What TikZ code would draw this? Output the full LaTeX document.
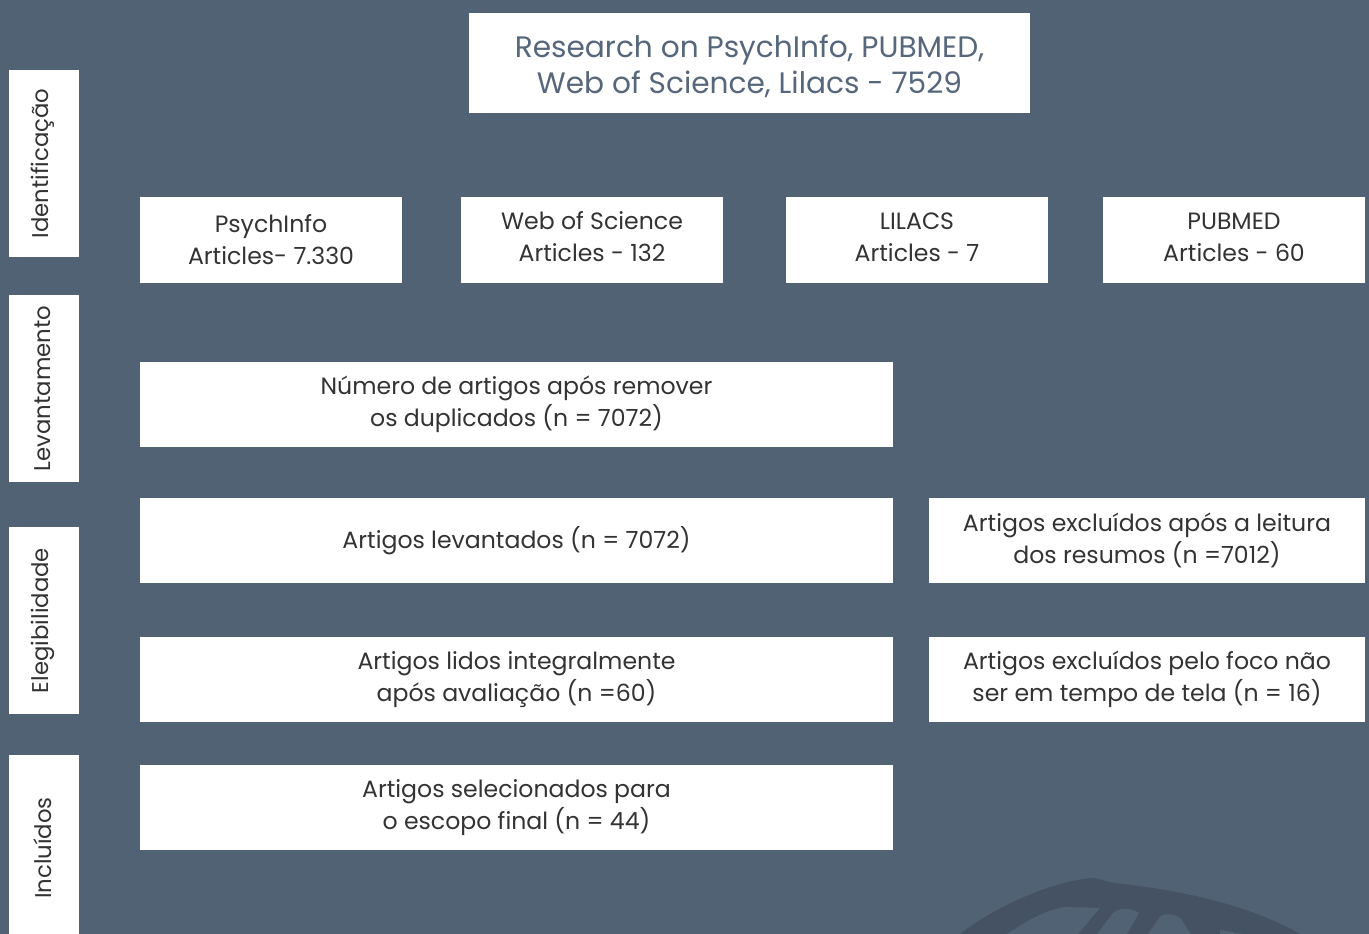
\documentclass[tikz,border=0pt]{standalone}
\usepackage{fontspec}
\setmainfont{Poppins}
\definecolor{bgc}{HTML}{526275}
\definecolor{decoc}{HTML}{455263}
\definecolor{titlec}{HTML}{56667B}
\definecolor{txtc}{HTML}{333333}
\begin{document}
\begin{tikzpicture}[x=1pt,y=-1pt,
  box/.style={fill=white, draw=none, inner sep=0pt, align=center, text=txtc,
    font=\fontsize{23.6}{32}\selectfont},
  boxtext/.style={inner sep=0pt, align=center, text=txtc,
    font=\fontsize{23.6}{32}\selectfont},
  sidebox/.style={fill=white, draw=none, inner sep=0pt, text=txtc,
    minimum width=70pt},
  sidetext/.style={rotate=90, text=txtc, inner sep=0pt, font=\fontsize{22.8}{26}\selectfont},
  titlebox/.style={fill=white, draw=none, inner sep=0pt, align=center, text=titlec,
    font=\fontsize{29.6}{36}\selectfont}]
\fill[bgc] (0,0) rectangle (1369,934);
\useasboundingbox (0,0) rectangle (1369,934);
% decorative shape
\begin{scope}
\clip (0,0) rectangle (1369,934);
\fill[decoc] (960,934) .. controls (985,914) and (1040,884) .. (1090,878)
  .. controls (1100,878) and (1105,882) .. (1115,883)
  .. controls (1180,890) and (1250,905) .. (1300,934) -- cycle;
\fill[bgc] (1007,934) .. controls (1025,922) and (1045,910) .. (1065,907)
  -- (1100,908) -- (1078,934) -- cycle;
\fill[bgc] (1097,934) -- (1113,913) .. controls (1118,908) and (1130,907) .. (1139,913)
  -- (1127,934) -- cycle;
\fill[bgc] (1148,934) -- (1160,917) .. controls (1163,913) and (1175,913) .. (1181,919)
  -- (1191,934) -- cycle;
\fill[bgc] (1220,930) -- (1242,934) -- (1220,934) -- cycle;
\end{scope}
% title
\node[titlebox, minimum width=561pt, minimum height=100pt] (title) at (749.5,63) {};
\node[text=titlec, inner sep=0pt, align=center, font=\fontsize{29.6}{36}\selectfont]
  at ([yshift=-3.5pt]title.center)
  {Research on PsychInfo, PUBMED,\\Web of Science, Lilacs - 7529};
% databases
\node[box, minimum width=262pt, minimum height=86pt] (psy) at (271,240)
  {PsychInfo\\Articles- 7.330};
\node[box, minimum width=262pt, minimum height=86pt] (wos) at (592,240) {};
\node[boxtext] at ([yshift=3pt]wos.center) {Web of Science\\Articles - 132};
\node[box, minimum width=262pt, minimum height=86pt] (lil) at (917,240) {};
\node[boxtext] at ([yshift=3pt]lil.center) {LILACS\\Articles - 7};
\node[box, minimum width=262pt, minimum height=86pt] (pub) at (1234,240) {};
\node[boxtext] at ([yshift=3pt]pub.center) {PUBMED\\Articles - 60};
% main column
\node[box, minimum width=753pt, minimum height=85pt] (dup) at (516.5,404.5)
  {Número de artigos após remover\\os duplicados (n = 7072)};
\node[box, minimum width=753pt, minimum height=85pt] (lev) at (516.5,540.5)
  {\raisebox{-3pt}{Artigos levantados (n = 7072)}};
\node[box, minimum width=436pt, minimum height=85pt] (exc1) at (1147,540.5)
  {Artigos excluídos após a leitura\\dos resumos (n =7012)};
\node[box, minimum width=753pt, minimum height=85pt] (lid) at (516.5,679.5)
  {Artigos lidos integralmente\\após avaliação (n =60)};
\node[box, minimum width=436pt, minimum height=85pt] (exc2) at (1147,679.5)
  {Artigos excluídos pelo foco não\\ser em tempo de tela (n = 16)};
\node[box, minimum width=753pt, minimum height=85pt] (sel) at (516.5,807.5)
  {Artigos selecionados para\\o escopo final (n = 44)};
% side labels
\node[sidebox, minimum height=187pt] (s1) at (44,163.5) {};
\node[sidetext] at ([xshift=-1pt]s1.center) {Identificação};
\node[sidebox, minimum height=187pt] (s2) at (44,388.5) {};
\node[sidetext] at ([xshift=-1pt]s2.center) {Levantamento};
\node[sidebox, minimum height=187pt] (s3) at (44,620.5) {};
\node[sidetext] at ([xshift=-1pt]s3.center) {Elegibilidade};
\node[sidebox, minimum height=179pt] (s4) at (44,844.5) {};
\node[sidetext] at ([xshift=-1pt,yshift=-3.5pt]s4.center) {Incluídos};
\end{tikzpicture}
\end{document}
